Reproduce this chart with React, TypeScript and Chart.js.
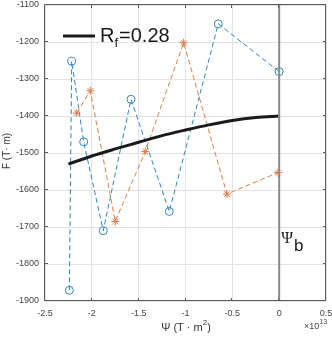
import React, { useEffect, useRef } from 'react';
import { Chart, registerables } from 'chart.js';

Chart.register(...registerables);

// Data (Ψ in units of 1e13 T·m², F in T·m)
const blueX = [-2.24, -2.215, -2.087, -1.878, -1.582, -1.173, -0.65, 0.0];
const blueY = [-1871, -1252, -1470, -1710, -1355, -1658, -1151, -1280];
const orangeX = [-2.162, -2.016, -1.75, -1.43, -1.02, -0.558, -0.013];
const orangeY = [-1392, -1332, -1685, -1496, -1202, -1611, -1553];
const curveX = [-2.25, -2.0, -1.75, -1.5, -1.25, -1.0, -0.75, -0.5, -0.25, 0];
const curveY = [-1530, -1508, -1489, -1471, -1453, -1438, -1424, -1412, -1404, -1400];
const psiBX = [0, 0];
const psiBY = [-1900, -1100];

const xTickValues = [-2.5, -2, -1.5, -1, -0.5, 0, 0.5];
const yTickValues = [-1900, -1800, -1700, -1600, -1500, -1400, -1300, -1200, -1100];
const xMin = -2.5, xMax = 0.5, yMin = -1900, yMax = -1100;

const legendMain = 'R';
const legendSub = 'f';
const legendRest = '=0.28';
const yTitle = 'F (T· m)';
const xTitleMain = 'Ψ (T · m';
const xTitleSup = '2';
const xTitleEnd = ')';
const expBase = '×10';
const expSup = '13';
const psiLabel = 'Ψ';
const psiSub = 'b';

const SANS = '"Liberation Sans", Arial, Helvetica, sans-serif';
const SERIF = '"Liberation Serif", "DejaVu Serif", serif';

const zip = (xs: number[], ys: number[]) => xs.map((x, i) => ({ x, y: ys[i] }));

const decorPlugin = {
  id: 'decor',
  afterDraw(chart: any) {
    const { ctx, chartArea } = chart;
    const xs = chart.scales.x;
    const ys = chart.scales.y;
    const { left, right, top, bottom } = chartArea;
    ctx.save();
    // box
    ctx.strokeStyle = '#5a5a5a';
    ctx.lineWidth = 1;
    ctx.beginPath();
    ctx.rect(Math.round(left) - 0.5, Math.round(top) - 0.5, Math.round(right - left), Math.round(bottom - top));
    ctx.stroke();
    // inward ticks
    const tl = 3;
    ctx.beginPath();
    xTickValues.forEach((v) => {
      const px = Math.round(xs.getPixelForValue(v)) - 0.5;
      ctx.moveTo(px, bottom);
      ctx.lineTo(px, bottom - tl);
      ctx.moveTo(px, top);
      ctx.lineTo(px, top + tl);
    });
    yTickValues.forEach((v) => {
      const py = Math.round(ys.getPixelForValue(v)) - 0.5;
      ctx.moveTo(left, py);
      ctx.lineTo(left + tl, py);
      ctx.moveTo(right, py);
      ctx.lineTo(right - tl, py);
    });
    ctx.stroke();

    // legend
    ctx.strokeStyle = '#1a1a1a';
    ctx.lineWidth = 3;
    ctx.beginPath();
    ctx.moveTo(63, 36);
    ctx.lineTo(95, 36);
    ctx.stroke();
    ctx.fillStyle = '#1a1a1a';
    ctx.textBaseline = 'alphabetic';
    ctx.textAlign = 'left';
    ctx.font = `20px ${SANS}`;
    let x = 100;
    ctx.fillText(legendMain, x, 42);
    x += ctx.measureText(legendMain).width;
    ctx.font = `13px ${SANS}`;
    ctx.fillText(legendSub, x, 47);
    x += ctx.measureText(legendSub).width + 1;
    ctx.font = `20px ${SANS}`;
    ctx.fillText(legendRest, x, 42);

    // Psi_b label
    const vx = xs.getPixelForValue(0);
    ctx.font = `16px ${SERIF}`;
    ctx.fillText(psiLabel, vx + 2, 243);
    const pw = ctx.measureText(psiLabel).width;
    ctx.font = `17px ${SANS}`;
    ctx.fillText(psiSub, vx + 2 + pw + 1, 251);

    // y title
    ctx.fillStyle = '#333333';
    ctx.save();
    ctx.translate(10, 151);
    ctx.rotate(-Math.PI / 2);
    ctx.font = `10px ${SANS}`;
    ctx.textAlign = 'center';
    ctx.fillText(yTitle, 0, 0);
    ctx.restore();

    // x title
    ctx.font = `11px ${SANS}`;
    const w1 = ctx.measureText(xTitleMain).width;
    ctx.font = `8px ${SANS}`;
    const w2 = ctx.measureText(xTitleSup).width;
    ctx.font = `11px ${SANS}`;
    const w3 = ctx.measureText(xTitleEnd).width;
    let tx = 186 - (w1 + w2 + w3) / 2;
    ctx.textAlign = 'left';
    ctx.fillText(xTitleMain, tx, 331);
    tx += w1;
    ctx.font = `8px ${SANS}`;
    ctx.fillText(xTitleSup, tx, 325);
    tx += w2;
    ctx.font = `11px ${SANS}`;
    ctx.fillText(xTitleEnd, tx, 331);

    // exponent
    ctx.font = `9px ${SANS}`;
    ctx.fillStyle = '#444444';
    ctx.fillText(expBase, 304, 329);
    const ew = ctx.measureText(expBase).width;
    ctx.font = `7px ${SANS}`;
    ctx.fillText(expSup, 304 + ew, 324);
    ctx.restore();
  },
};

export default function App() {
  const ref = useRef<HTMLCanvasElement | null>(null);
  useEffect(() => {
    document.body.style.margin = '0';
    const canvas = ref.current!;
    const chart = new Chart(canvas, {
      type: 'scatter',
      data: {
        datasets: [
          {
            data: zip(psiBX, psiBY),
            showLine: true,
            borderColor: '#8a8a8a',
            borderWidth: 2,
            pointRadius: 0,
          },
          {
            data: zip(curveX, curveY),
            showLine: true,
            borderColor: '#1a1a1a',
            borderWidth: 3,
            pointRadius: 0,
            tension: 0.3,
          },
          {
            data: zip(orangeX, orangeY),
            showLine: true,
            borderColor: '#e07b4c',
            borderWidth: 1,
            borderDash: [5, 3],
            pointStyle: 'star',
            pointRadius: 4,
            pointBorderWidth: 1,
            pointBorderColor: '#e07b4c',
            pointBackgroundColor: 'transparent',
          },
          {
            data: zip(blueX, blueY),
            showLine: true,
            borderColor: '#2f86c3',
            borderWidth: 1,
            borderDash: [5, 3],
            pointStyle: 'circle',
            pointRadius: 4,
            pointBorderWidth: 1,
            pointBorderColor: '#2f86c3',
            pointBackgroundColor: 'transparent',
          },
        ],
      },
      options: {
        animation: false,
        responsive: false,
        devicePixelRatio: 1,
        layout: { padding: { top: 5, right: 6, left: 0, bottom: 0 } },
        plugins: { legend: { display: false }, tooltip: { enabled: false } },
        scales: {
          x: {
            type: 'linear',
            min: xMin,
            max: xMax,
            afterFit: (s: any) => { s.height = 36; s.paddingLeft = 0; s.paddingRight = 0; },
            afterBuildTicks: (s: any) => { s.ticks = xTickValues.map((v) => ({ value: v })); },
            grid: { color: '#e3e3e3', drawTicks: false },
            border: { display: false },
            ticks: {
              autoSkip: false,
              maxRotation: 0,
              padding: 7,
              color: '#444444',
              font: { family: SANS, size: 9 },
              callback: (v: any) => String(v),
            },
          },
          y: {
            type: 'linear',
            min: yMin,
            max: yMax,
            afterFit: (s: any) => { s.width = 45; s.paddingTop = 0; s.paddingBottom = 0; },
            afterBuildTicks: (s: any) => { s.ticks = yTickValues.map((v) => ({ value: v })); },
            grid: { color: '#e3e3e3', drawTicks: false },
            border: { display: false },
            ticks: {
              autoSkip: false,
              padding: 6,
              color: '#444444',
              font: { family: SANS, size: 9 },
              callback: (v: any) => String(v),
            },
          },
        },
      },
      plugins: [decorPlugin],
    });
    return () => chart.destroy();
  }, []);
  return (
    <div style={{ width: 332, height: 337 }}>
      <canvas ref={ref} width={332} height={337} style={{ display: 'block' }} />
    </div>
  );
}
